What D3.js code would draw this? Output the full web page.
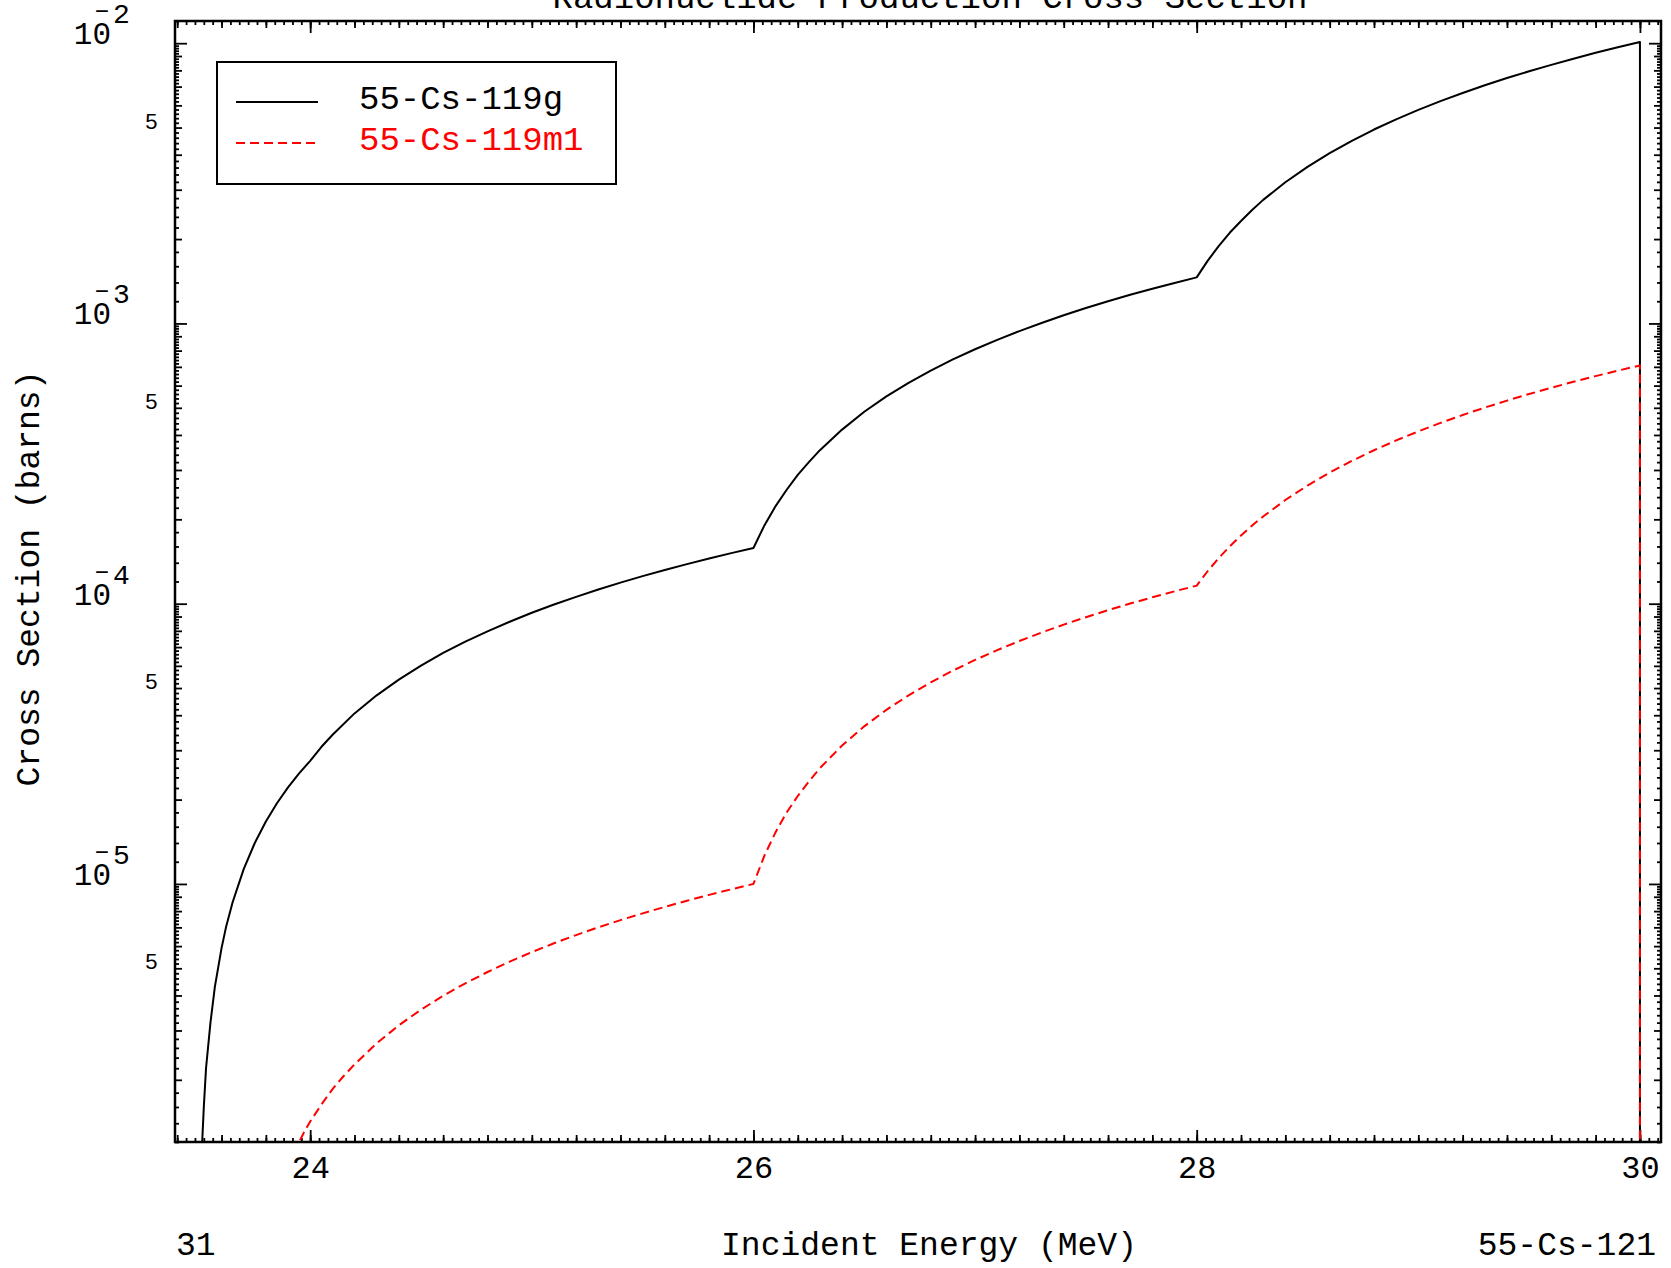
<!DOCTYPE html>
<html>
<head>
<meta charset="utf-8">
<script src="https://cdn.jsdelivr.net/npm/d3@7"></script>
<style>
body { margin: 0; background: #fff; }
text { font-family: "Liberation Mono", monospace; fill: #000; }
</style>
</head>
<body>
<svg id="chart" width="1671" height="1268"></svg>
<script>
// ---- data ----
const energyG = [23.50, 23.51, 23.52, 23.53, 23.55, 23.57, 23.60, 23.62, 23.65, 23.70, 23.75, 23.80, 23.85, 23.90, 23.95,
  24.0, 24.05, 24.1, 24.2, 24.3, 24.4, 24.5, 24.6, 24.7, 24.8, 24.9,
  25.0, 25.1, 25.2, 25.3, 25.4, 25.5, 25.6, 25.7, 25.8, 25.9,
  26.0, 26.05, 26.1, 26.15, 26.2, 26.25, 26.3, 26.4, 26.5, 26.6, 26.7, 26.8, 26.9,
  27.0, 27.1, 27.2, 27.3, 27.4, 27.5, 27.6, 27.7, 27.8, 27.9,
  28.0, 28.05, 28.1, 28.15, 28.2, 28.25, 28.3, 28.4, 28.5, 28.6, 28.7, 28.8, 28.9,
  29.0, 29.1, 29.2, 29.3, 29.4, 29.5, 29.6, 29.7, 29.8, 29.9,
  30.0, 30.0];
const sigmaG = [5.4e-7, 1.08e-6, 1.6e-6, 2.2e-6, 3.2e-6, 4.3e-6, 5.9e-6, 7.0e-6, 8.6e-6, 1.13e-5, 1.40e-5, 1.67e-5, 1.94e-5, 2.21e-5, 2.48e-5,
  2.75e-5, 3.08e-5, 3.40e-5, 4.06e-5, 4.71e-5, 5.36e-5, 6.01e-5, 6.67e-5, 7.32e-5, 7.97e-5, 8.62e-5,
  9.28e-5, 9.93e-5, 1.058e-4, 1.123e-4, 1.189e-4, 1.254e-4, 1.319e-4, 1.384e-4, 1.450e-4, 1.515e-4,
  1.58e-4, 1.906e-4, 2.23e-4, 2.55e-4, 2.88e-4, 3.20e-4, 3.53e-4, 4.18e-4, 4.84e-4, 5.49e-4, 6.14e-4, 6.79e-4, 7.44e-4,
  8.09e-4, 8.74e-4, 9.39e-4, 1.004e-3, 1.069e-3, 1.135e-3, 1.200e-3, 1.265e-3, 1.330e-3, 1.395e-3,
  1.46e-3, 1.676e-3, 1.89e-3, 2.11e-3, 2.32e-3, 2.54e-3, 2.76e-3, 3.19e-3, 3.62e-3, 4.05e-3, 4.48e-3, 4.92e-3, 5.35e-3,
  5.78e-3, 6.21e-3, 6.64e-3, 7.08e-3, 7.51e-3, 7.94e-3, 8.37e-3, 8.80e-3, 9.24e-3, 9.67e-3,
  1.01e-2, 1e-7];

const energyM = [23.90, 23.95, 23.97,
  24.0, 24.05, 24.1, 24.15, 24.2, 24.3, 24.4, 24.5, 24.6, 24.7, 24.8, 24.9,
  25.0, 25.1, 25.2, 25.3, 25.4, 25.5, 25.6, 25.7, 25.8, 25.9,
  26.0, 26.05, 26.1, 26.15, 26.2, 26.25, 26.3, 26.4, 26.5, 26.6, 26.7, 26.8, 26.9,
  27.0, 27.1, 27.2, 27.3, 27.4, 27.5, 27.6, 27.7, 27.8, 27.9,
  28.0, 28.05, 28.1, 28.15, 28.2, 28.25, 28.3, 28.4, 28.5, 28.6, 28.7, 28.8, 28.9,
  29.0, 29.1, 29.2, 29.3, 29.4, 29.5, 29.6, 29.7, 29.8, 29.9,
  30.0, 30.0];
const sigmaM = [9.9e-7, 1.20e-6, 1.29e-6,
  1.42e-6, 1.63e-6, 1.85e-6, 2.06e-6, 2.27e-6, 2.70e-6, 3.13e-6, 3.56e-6, 3.99e-6, 4.42e-6, 4.85e-6, 5.28e-6,
  5.71e-6, 6.14e-6, 6.57e-6, 7.00e-6, 7.43e-6, 7.85e-6, 8.28e-6, 8.71e-6, 9.14e-6, 9.57e-6,
  1.00e-5, 1.265e-5, 1.53e-5, 1.80e-5, 2.06e-5, 2.32e-5, 2.59e-5, 3.12e-5, 3.65e-5, 4.18e-5, 4.71e-5, 5.24e-5, 5.77e-5,
  6.30e-5, 6.83e-5, 7.36e-5, 7.89e-5, 8.42e-5, 8.95e-5, 9.48e-5, 1.001e-4, 1.054e-4, 1.107e-4,
  1.16e-4, 1.308e-4, 1.456e-4, 1.604e-4, 1.752e-4, 1.90e-4, 2.048e-4, 2.344e-4, 2.64e-4, 2.936e-4, 3.232e-4, 3.528e-4, 3.824e-4,
  4.12e-4, 4.416e-4, 4.712e-4, 5.008e-4, 5.304e-4, 5.60e-4, 5.896e-4, 6.192e-4, 6.488e-4, 6.784e-4,
  7.08e-4, 1e-7];

const legendLabels = ["55-Cs-119g", "55-Cs-119m1"];
const xTickValues = [24, 26, 28, 30];
const xTickLabels = ["24", "26", "28", "30"];
const yMajorValues = [1e-2, 1e-3, 1e-4, 1e-5];
const yMajorExps = ["2", "3", "4", "5"];
const yFiveValues = [5e-3, 5e-4, 5e-5, 5e-6];
const xDomain = [23.39, 30.095];
const yDomain = [1.2e-6, 1.2e-2];

// ---- layout ----
const svg = d3.select("#chart");
const plotL = 175, plotR = 1661, plotT = 21, plotB = 1142;

const x = d3.scaleLinear().domain(xDomain).range([plotL, plotR]);
const y = d3.scaleLog().domain(yDomain).range([plotB, plotT]);

svg.append("rect").attr("width", 1671).attr("height", 1268).attr("fill", "#fff");

// minor tick positions
const xSmall = d3.range(0, 170).map(i => +(23.4 + i * 0.04).toFixed(2)).filter(v => v <= xDomain[1]);
const xMedium = xSmall.filter(v => Math.abs(v / 0.2 - Math.round(v / 0.2)) < 1e-6);
let ySmall = [], yMedium = [];
for (let e = -6; e <= -2; e++) {
    for (let k = 0; k < 45; k++) {
        const m = +(1 + k * 0.2).toFixed(1);
        const v = m * Math.pow(10, e);
        if (v < yDomain[0] || v > yDomain[1]) continue;
        if (m === 1) continue;
        if (Number.isInteger(m)) yMedium.push(v); else ySmall.push(v);
    }
}

function ticks(axisFn, scale, values, size, tr) {
    svg.append("g")
        .attr("transform", tr)
        .call(axisFn(scale).tickValues(values).tickSize(-size).tickFormat(""))
        .call(g => g.select(".domain").remove())
        .selectAll("line").attr("stroke-width", 1.8);
}

ticks(d3.axisBottom, x, xSmall, 4, `translate(0,${plotB})`);
ticks(d3.axisBottom, x, xMedium, 7, `translate(0,${plotB})`);
ticks(d3.axisBottom, x, xTickValues, 12, `translate(0,${plotB})`);
ticks(d3.axisTop, x, xSmall, 4, `translate(0,${plotT})`);
ticks(d3.axisTop, x, xMedium, 7, `translate(0,${plotT})`);
ticks(d3.axisTop, x, xTickValues, 12, `translate(0,${plotT})`);

ticks(d3.axisLeft, y, ySmall, 4, `translate(${plotL},0)`);
ticks(d3.axisLeft, y, yMedium, 7, `translate(${plotL},0)`);
ticks(d3.axisLeft, y, yMajorValues, 12, `translate(${plotL},0)`);
ticks(d3.axisRight, y, ySmall, 4, `translate(${plotR},0)`);
ticks(d3.axisRight, y, yMedium, 7, `translate(${plotR},0)`);
ticks(d3.axisRight, y, yMajorValues, 12, `translate(${plotR},0)`);

// x tick labels
const xLab = svg.append("g")
    .attr("transform", `translate(0,${plotB})`)
    .call(d3.axisBottom(x).tickValues(xTickValues).tickSize(0).tickFormat((d, i) => xTickLabels[i]));
xLab.select(".domain").remove();
xLab.attr("font-family", null).attr("font-size", null);
xLab.selectAll("text").attr("y", 36).attr("dy", null).style("font-size", "32px");

// y tick labels: 10 with superscript exponent (minus drawn over the 0, plotter style)
yMajorValues.forEach((v, i) => {
    const g = svg.append("g").attr("transform", `translate(0,${y(v)})`);
    g.append("text").attr("x", 111).attr("y", 1).attr("text-anchor", "end")
        .style("font-size", "31px").text("10");
    g.append("text").attr("x", 102).attr("y", -24).attr("text-anchor", "middle")
        .style("font-size", "24px").text("\u2212");
    g.append("text").attr("x", 113).attr("y", -20)
        .style("font-size", "28px").text(yMajorExps[i]);
});
yFiveValues.forEach(v => {
    svg.append("text").attr("x", 158).attr("y", y(v) + 1).attr("text-anchor", "end")
        .style("font-size", "22px").text("5");
});

// curves
svg.append("clipPath").attr("id", "plotclip")
    .append("rect").attr("x", plotL).attr("y", plotT).attr("width", plotR - plotL).attr("height", plotB - plotT);

const line = d3.line().x(d => x(d[0])).y(d => y(d[1]));
const plot = svg.append("g").attr("clip-path", "url(#plotclip)");

plot.append("path")
    .datum(energyG.map((e, i) => [e, sigmaG[i]]))
    .attr("d", line)
    .attr("fill", "none").attr("stroke", "#000").attr("stroke-width", 2)
    .attr("stroke-linejoin", "round");

plot.append("path")
    .datum(energyM.map((e, i) => [e, sigmaM[i]]))
    .attr("d", line)
    .attr("fill", "none").attr("stroke", "#ff0000").attr("stroke-width", 2)
    .attr("stroke-dasharray", "9,5");

// frame
svg.append("rect").attr("x", plotL).attr("y", plotT).attr("width", plotR - plotL).attr("height", plotB - plotT)
    .attr("fill", "none").attr("stroke", "#000").attr("stroke-width", 2.5);

// legend
const legend = svg.append("g");
legend.append("rect").attr("x", 217).attr("y", 62).attr("width", 399).attr("height", 122)
    .attr("fill", "#fff").attr("stroke", "#000").attr("stroke-width", 2);
const legendColors = ["#000", "#ff0000"];
const legendDash = [null, "9,5"];
legendLabels.forEach((lab, i) => {
    const ly = 102 + i * 41;
    legend.append("line").attr("x1", 236).attr("x2", 318).attr("y1", ly).attr("y2", ly)
        .attr("stroke", legendColors[i]).attr("stroke-width", 2)
        .attr("stroke-dasharray", legendDash[i]);
    legend.append("text").attr("x", 359).attr("y", ly + 7)
        .style("font-size", "34px").style("fill", legendColors[i]).text(lab);
});

// titles
svg.append("text").attr("x", 930).attr("y", 8).attr("text-anchor", "middle")
    .style("font-size", "34px").text("Radionuclide Production Cross Section");
svg.append("text").attr("x", 929).attr("y", 1255).attr("text-anchor", "middle")
    .style("font-size", "33px").text("Incident Energy (MeV)");
svg.append("text").attr("transform", `translate(39,${(plotT + plotB) / 2 - 3}) rotate(-90)`)
    .attr("text-anchor", "middle").style("font-size", "33px").text("Cross Section (barns)");
svg.append("text").attr("x", 176).attr("y", 1255).style("font-size", "33px").text("31");
svg.append("text").attr("x", 1656).attr("y", 1255).attr("text-anchor", "end")
    .style("font-size", "33px").text("55-Cs-121");
</script>
</body>
</html>
